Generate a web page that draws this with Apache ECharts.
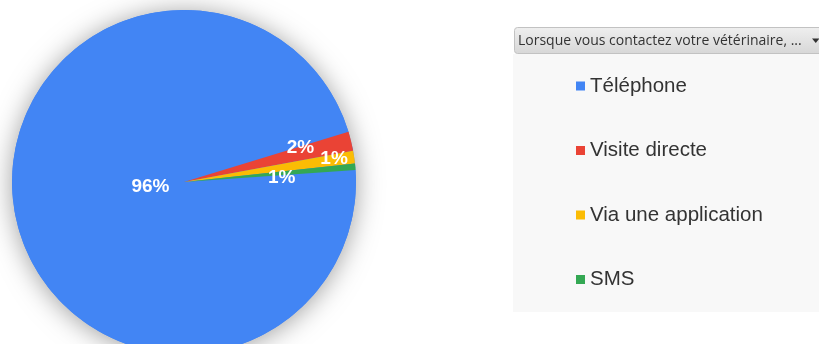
<!DOCTYPE html>
<html>
<head>
<meta charset="utf-8">
<script src="https://cdn.jsdelivr.net/npm/echarts@6/dist/echarts.min.js"></script>
<style>html,body{margin:0;padding:0;background:#fff;}#c{width:819px;height:344px;}</style>
</head>
<body>
<div id="c"></div>
<script>
// Data
const categories = ['Téléphone', 'Visite directe', 'Via une application', 'SMS'];
const values = [482, 9, 6, 3];
const colors = ['#4285f4', '#ea4335', '#fbbc04', '#34a853'];
const headerText = 'Lorsque vous contactez votre vétérinaire, ...';

// label nudges (style, not data)
const labelNudge = [[54, -11], [30, -13], [62, -10], [9, 4]];

const total = values.reduce((a, b) => a + b, 0);
const chart = echarts.init(document.getElementById('c'));
chart.setOption({
  animation: false,
  graphic: [
    { type: 'rect', z: 0, shape: { x: 513, y: 54, width: 306, height: 258 }, style: { fill: '#f8f8f8' } },
    { type: 'rect', z: 1, shape: { x: 514.5, y: 27.5, width: 310, height: 26, r: 3 },
      style: { fill: new echarts.graphic.LinearGradient(0, 0, 0, 1, [{ offset: 0, color: '#efefef' }, { offset: 1, color: '#d7d7d7' }]), stroke: '#c2c2c2', lineWidth: 1 } },
    { type: 'text', z: 2, style: { x: 518, y: 41, text: headerText, fill: '#333', font: '14px "Open Sans"', verticalAlign: 'middle' } },
    { type: 'polygon', z: 2, shape: { points: [[812, 38.5], [819.5, 38.5], [815.75, 43]] }, style: { fill: '#333' } }
  ],
  legend: {
    z: 10,
    orient: 'vertical',
    left: 576,
    top: 74,
    padding: 0,
    itemWidth: 9,
    itemHeight: 9,
    itemGap: 40.5,
    icon: 'rect',
    data: categories,
    selectedMode: false,
    textStyle: { fontFamily: '"Liberation Sans", Arial', fontSize: 20.5, color: '#333', lineHeight: 24 }
  },
  series: [
    {
      type: 'pie',
      z: 1,
      silent: true,
      center: [184, 182],
      radius: 172,
      label: { show: false },
      labelLine: { show: false },
      itemStyle: { color: '#4285f4', shadowBlur: 26, shadowColor: 'rgba(0,0,0,0.38)', shadowOffsetY: 2 },
      data: [{ name: '', value: total }]
    },
    {
      type: 'pie',
      z: 2,
      center: [184, 182],
      radius: 172,
      startAngle: 4,
      clockwise: true,
      avoidLabelOverlap: false,
      minShowLabelAngle: 0,
      label: {
        show: true,
        position: 'inside',
        formatter: p => Math.round(p.value / total * 100) + '%',
        color: '#fff',
        fontFamily: '"Liberation Sans", Arial',
        fontWeight: 'bold',
        fontSize: 19
      },
      labelLayout: p => ({ dx: labelNudge[p.dataIndex][0], dy: labelNudge[p.dataIndex][1] }),
      itemStyle: { borderWidth: 0 },
      emphasis: { disabled: true },
      data: categories.map((c, i) => ({ name: c, value: values[i], itemStyle: { color: colors[i] } }))
    }
  ]
});
</script>
</body>
</html>
